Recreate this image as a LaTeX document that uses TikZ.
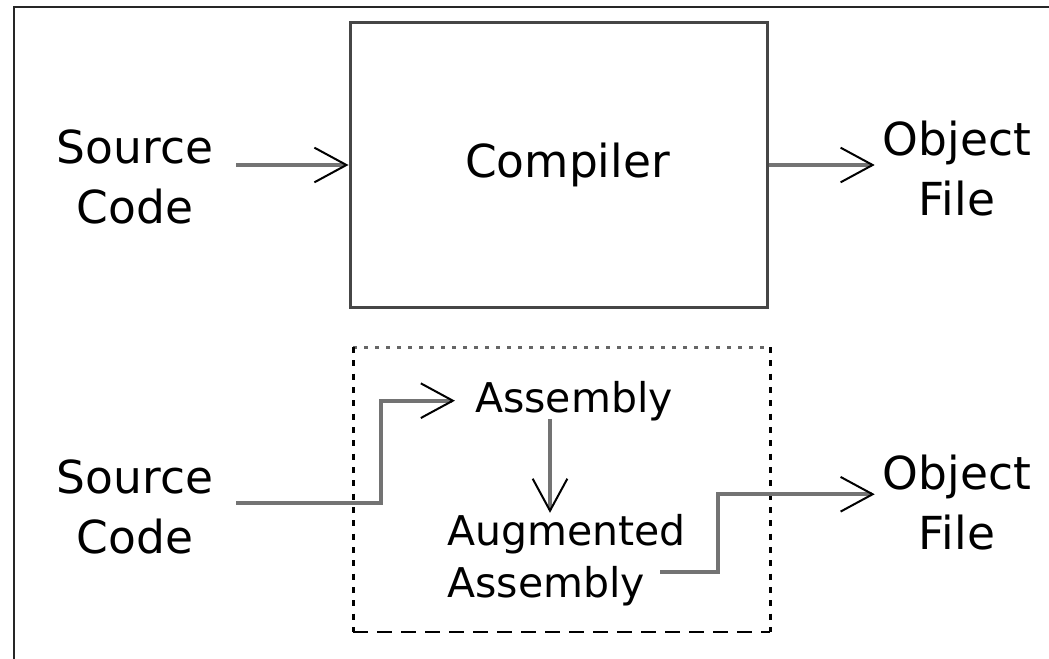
\documentclass[tikz,border=0pt]{standalone}
\usepackage{fontspec}
\setmainfont{DejaVu Sans}
\usetikzlibrary{arrows.meta,calc}
\definecolor{linegray}{RGB}{115,115,115}
\definecolor{boxgray}{RGB}{70,70,70}
\begin{document}
\begin{tikzpicture}[x=0.75pt,y=-0.75pt,
  big/.style={font=\fontsize{34.1pt}{45pt}\selectfont, inner sep=0pt, align=center},
  mid/.style={font=\fontsize{30.75pt}{39pt}\selectfont, inner sep=0pt},
  arr/.style={draw=linegray, line width=3pt,
    -{Straight Barb[length=24pt,width=26pt,line width=1.5pt,color=black]}},
  frame/.style={draw=black!85, line width=1.5pt},
  compbox/.style={draw=boxgray, line width=2.25pt, minimum width=312.75pt,
    minimum height=213pt, inner sep=0pt},
  dottop/.style={draw=black!60, line width=2.25pt, dash pattern=on 3pt off 5.25pt},
  dotside/.style={draw=black, line width=2.25pt, dash pattern=on 4.5pt off 5.5pt},
  dashbot/.style={draw=black, line width=1.5pt, dash pattern=on 11pt off 7pt}]
\useasboundingbox (0,0) rectangle (1049,659);
\fill[white] (0,0) rectangle (1049,659);
% outer frame (cropped)
\draw[frame] (14,659) -- (14,7) -- (1049,7);

% top row
\node[compbox] (comp) at (558.5,165) {};
\node[big, anchor=base] (comptext) at (567.5,177.5) {Compiler};
\node[big, anchor=north] (src1) at (135,129.2) {Source\\Code};
\node[big, anchor=north] (obj1) at (957,120.9) {Object\\File};

\draw[arr] ($(src1.east |- comp.west)+(23,0)$) -- (comp.west);
\draw[arr] (comp.east) -- ($(obj1.west |- comp.east)+(-8,0)$);

% bottom row
\coordinate (dnw) at (353,347);
\coordinate (dse) at (770,632);
\draw[dottop] (dnw) -- (dse |- dnw);
\draw[dotside] (dnw) -- (dnw |- dse);
\draw[dotside] (dse |- dnw) -- (dse);
\draw[dashbot] (dnw |- dse) -- (dse);

\node[big, anchor=north] (src2) at (135,459.2) {Source\\Code};
\node[big, anchor=north] (obj2) at (957,454.4) {Object\\File};
\node[mid, anchor=base] (asm) at (574,412) {Assembly};
\node[mid, anchor=north west, align=left] (aug) at (447,513.8) {Augmented\\Assembly};
\coordinate (augout) at (660,572);

\draw[arr] ($(src2.east)+(23,-3.4)$) -- ++(145,0) |- ($(asm.west)+(-20,0)$);
\draw[arr] ($(asm.south)+(-24,-2)$) -- ($(aug.north -| asm.south)+(-24,-1)$);
\draw[arr] (augout) -- ++(58,0) |- ($(obj2.west)+(-8,-8)$);
\end{tikzpicture}
\end{document}
